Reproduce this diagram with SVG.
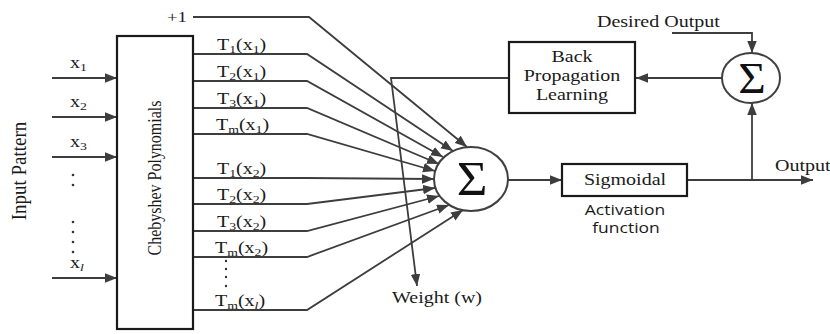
<svg xmlns="http://www.w3.org/2000/svg" width="830" height="334" viewBox="0 0 830 334">
<style>
  .ln { fill: none; stroke: #3d3d3d; stroke-width: 1.8; }
  .arr { marker-end: url(#ah); }
  .box { fill: #ffffff; stroke: #1a1a1a; stroke-width: 2.2; }
  .nd { fill: #ffffff; stroke: #404040; stroke-width: 2; }
  .t { font-family: "Liberation Serif", "Times New Roman", serif; font-size: 16px; fill: #1a1a1a; }
  .sub { font-size: 11px; }
  .big { font-size: 19px; }
  .plus { font-size: 15px; }
  .sans { font-family: "Open Sans", "Liberation Sans", Arial, sans-serif; font-size: 14px; fill: #1a1a1a; }
  .sig { font-family: "Liberation Serif", "Times New Roman", serif; fill: #111111; }
  .dot { fill: #333333; }
</style>
<defs>
  <marker id="ah" markerUnits="userSpaceOnUse" markerWidth="13" markerHeight="10" refX="12" refY="4.75" orient="auto">
    <path d="M0,0 L12,4.75 L0,9.5 z" fill="#3d3d3d"/>
  </marker>
</defs>
<rect width="830" height="334" fill="#ffffff"/>

<g id="connectors">
  <path class="ln arr" d="M52,78 H117"/>
  <path class="ln arr" d="M52,117 H117"/>
  <path class="ln arr" d="M52,157 H117"/>
  <path class="ln arr" d="M52,278 H117"/>
  <path class="ln arr" d="M193,17 H309 L467,147"/>
  <path class="ln arr" d="M193,54 H307 L453,151"/>
  <path class="ln arr" d="M193,81 H307 L443,157"/>
  <path class="ln arr" d="M193,108 H307 L439,164"/>
  <path class="ln arr" d="M193,134 H307 L435,171"/>
  <path class="ln arr" d="M193,178 H307 L434,179"/>
  <path class="ln arr" d="M193,204 H307 L435,188"/>
  <path class="ln arr" d="M193,231 H307 L439,196"/>
  <path class="ln arr" d="M193,257 H307 L449,205"/>
  <path class="ln arr" d="M193,310 H307 L463,210"/>
  <path class="ln arr" d="M508,180 H562"/>
  <path class="ln arr" d="M687,180 H813"/>
  <path class="ln arr" d="M752,180 V103"/>
  <path class="ln arr" d="M672,33 H752 V53"/>
  <path class="ln arr" d="M722,78 H636"/>
  <path class="ln arr" d="M509,78 H391 L417,286"/>
</g>

<g id="input-pattern">
  <text class="t big" text-anchor="middle" transform="translate(26,171) scale(1.15,1) rotate(-90)">Input Pattern</text>
  <text class="t" transform="translate(70,68) scale(1.25,1)">x<tspan class="sub" dy="3">1</tspan></text>
  <text class="t" transform="translate(70,107) scale(1.25,1)">x<tspan class="sub" dy="3">2</tspan></text>
  <text class="t" transform="translate(70,147) scale(1.25,1)">x<tspan class="sub" dy="3">3</tspan></text>
  <text class="t" transform="translate(70,268) scale(1.25,1)">x<tspan class="sub" dy="3" font-style="italic">l</tspan></text>
  <circle class="dot" cx="73" cy="175" r="1.3"/>
  <circle class="dot" cx="73" cy="185" r="1.3"/>
  <circle class="dot" cx="73" cy="222" r="1.3"/>
  <circle class="dot" cx="73" cy="232" r="1.3"/>
  <circle class="dot" cx="73" cy="242" r="1.3"/>
  <circle class="dot" cx="73" cy="252" r="1.3"/>
</g>

<g id="chebyshev">
  <rect class="box" x="117" y="36" width="76" height="293"/>
  <text class="t" text-anchor="middle" transform="translate(161,178) scale(1.2,1) rotate(-90)">Chebyshev Polynomials</text>
</g>

<g id="expansions">
  <text class="t plus" transform="translate(167,22) scale(1.25,1)">+1</text>
  <text class="t" transform="translate(217,50) scale(1.25,1)">T<tspan class="sub" dy="3">1</tspan><tspan dy="-3">(x</tspan><tspan class="sub" dy="3">1</tspan><tspan dy="-3">)</tspan></text>
  <text class="t" transform="translate(217,77) scale(1.25,1)">T<tspan class="sub" dy="3">2</tspan><tspan dy="-3">(x</tspan><tspan class="sub" dy="3">1</tspan><tspan dy="-3">)</tspan></text>
  <text class="t" transform="translate(217,104) scale(1.25,1)">T<tspan class="sub" dy="3">3</tspan><tspan dy="-3">(x</tspan><tspan class="sub" dy="3">1</tspan><tspan dy="-3">)</tspan></text>
  <text class="t" transform="translate(216,130) scale(1.25,1)">T<tspan class="sub" dy="3">m</tspan><tspan dy="-3">(x</tspan><tspan class="sub" dy="3">1</tspan><tspan dy="-3">)</tspan></text>
  <text class="t" transform="translate(217,174) scale(1.25,1)">T<tspan class="sub" dy="3">1</tspan><tspan dy="-3">(x</tspan><tspan class="sub" dy="3">2</tspan><tspan dy="-3">)</tspan></text>
  <text class="t" transform="translate(217,200) scale(1.25,1)">T<tspan class="sub" dy="3">2</tspan><tspan dy="-3">(x</tspan><tspan class="sub" dy="3">2</tspan><tspan dy="-3">)</tspan></text>
  <text class="t" transform="translate(217,227) scale(1.25,1)">T<tspan class="sub" dy="3">3</tspan><tspan dy="-3">(x</tspan><tspan class="sub" dy="3">2</tspan><tspan dy="-3">)</tspan></text>
  <text class="t" transform="translate(215,253) scale(1.25,1)">T<tspan class="sub" dy="3">m</tspan><tspan dy="-3">(x</tspan><tspan class="sub" dy="3">2</tspan><tspan dy="-3">)</tspan></text>
  <text class="t" transform="translate(215,306) scale(1.25,1)">T<tspan class="sub" dy="3">m</tspan><tspan dy="-3">(x</tspan><tspan class="sub" dy="3" font-style="italic">l</tspan><tspan dy="-3">)</tspan></text>
  <circle class="dot" cx="226" cy="261" r="1.2"/>
  <circle class="dot" cx="226" cy="269" r="1.2"/>
  <circle class="dot" cx="226" cy="277" r="1.2"/>
  <circle class="dot" cx="226" cy="286" r="1.2"/>
</g>

<g id="sum">
  <ellipse class="nd" cx="471" cy="179" rx="37" ry="32"/>
  <text class="sig" font-size="48" text-anchor="middle" transform="translate(472,195) scale(1.1,1)">Σ</text>
</g>

<g id="weight">
  <text class="t" transform="translate(392,303) scale(1.25,1)">Weight (w)</text>
</g>

<g id="sigmoidal">
  <rect class="box" x="562" y="164" width="125" height="32" stroke="#404040"/>
  <text class="t" text-anchor="middle" transform="translate(625,185) scale(1.25,1)">Sigmoidal</text>
  <text class="sans" text-anchor="middle" transform="translate(625,215) scale(1.25,1)">Activation</text>
  <text class="sans" text-anchor="middle" transform="translate(626,233) scale(1.25,1)">function</text>
</g>

<g id="output">
  <text class="t" transform="translate(775,171) scale(1.25,1)">Output</text>
</g>

<g id="error-sum">
  <ellipse class="nd" cx="751" cy="78" rx="29" ry="25"/>
  <text class="sig" font-size="45" text-anchor="middle" transform="translate(752,93) scale(1.05,1)">Σ</text>
</g>

<g id="desired-output">
  <text class="t" transform="translate(597,27) scale(1.25,1)">Desired Output</text>
</g>

<g id="back-propagation">
  <rect class="box" x="509" y="42" width="126" height="71" stroke="#404040"/>
  <text class="t" text-anchor="middle" transform="translate(572,62) scale(1.25,1)">Back</text>
  <text class="t" text-anchor="middle" transform="translate(572,81) scale(1.25,1)">Propagation</text>
  <text class="t" text-anchor="middle" transform="translate(572,100) scale(1.25,1)">Learning</text>
</g>
</svg>
